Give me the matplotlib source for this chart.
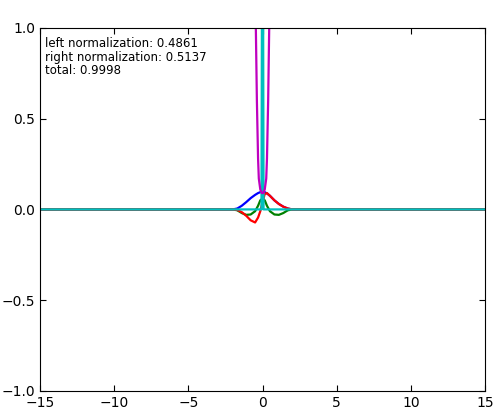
import matplotlib
matplotlib.use('Agg')
import matplotlib.pyplot as plt

# ==========================================
# 1. 数据
# ==========================================
x_grid = [-15, -2.0, -1.7, -1.4, -1.1, -0.8, -0.5, -0.3, -0.15, 0, 0.15, 0.3, 0.5, 0.8, 1.1, 1.4, 1.7, 2.0, 15]
blue_y = [0, 0, 0.005, 0.02, 0.04, 0.062, 0.08, 0.09, 0.095, 0.1, 0.095, 0.088, 0.075, 0.05, 0.03, 0.015, 0.005, 0, 0]
green_y = [0, 0, -0.005, -0.02, -0.03, -0.028, -0.01, 0.02, 0.05, 0.06, 0.05, 0.02, -0.01, -0.028, -0.03, -0.02, -0.005, 0, 0]
red_y = [0, 0, -0.003, -0.015, -0.035, -0.06, -0.072, -0.045, -0.01, 0.04, 0.085, 0.09, 0.075, 0.05, 0.03, 0.015, 0.005, 0, 0]

x_cyan = [-15, -0.07, -0.03, 0, 0.03, 0.07, 15]
cyan_y = [0, 0, 1.5, 3.0, 1.5, 0, 0]

x_mag = [-0.55, -0.45, -0.38, -0.3, -0.25, -0.15, -0.05, 0, 0.05, 0.15, 0.25, 0.3, 0.38, 0.45, 0.55]
mag_y = [1.6, 1.0, 0.6, 0.28, 0.17, 0.11, 0.09, 0.09, 0.09, 0.11, 0.17, 0.28, 0.6, 1.0, 1.6]

x_ticks = [-15, -10, -5, 0, 5, 10, 15]
y_ticks = [-1.0, -0.5, 0.0, 0.5, 1.0]

info_text = "left normalization: 0.4861\nright normalization: 0.5137\ntotal: 0.9998"

# ==========================================
# 2. 绘图
# ==========================================
fig = plt.figure(figsize=(4.93, 4.11), dpi=100)
ax = fig.add_axes([0.081, 0.049, 0.903, 0.883])

ax.plot(x_grid, blue_y, color='b', lw=1.6)
ax.plot(x_grid, green_y, color='g', lw=1.6)
ax.plot(x_grid, red_y, color='r', lw=1.6)
ax.plot(x_cyan, cyan_y, color='c', lw=1.6)
ax.plot(x_mag, mag_y, color='m', lw=1.6)

ax.set_xlim(-15, 15)
ax.set_ylim(-1, 1)
ax.set_xticks(x_ticks)
ax.set_yticks(y_ticks)
ax.tick_params(direction='in', top=True, right=True, labelsize=10, length=4)

# 左上角归一化信息
ax.text(0.012, 0.975, info_text, transform=ax.transAxes, fontsize=8.5,
        va='top', ha='left', linespacing=1.05)

fig.savefig('out.png', dpi=100)
plt.close(fig)
